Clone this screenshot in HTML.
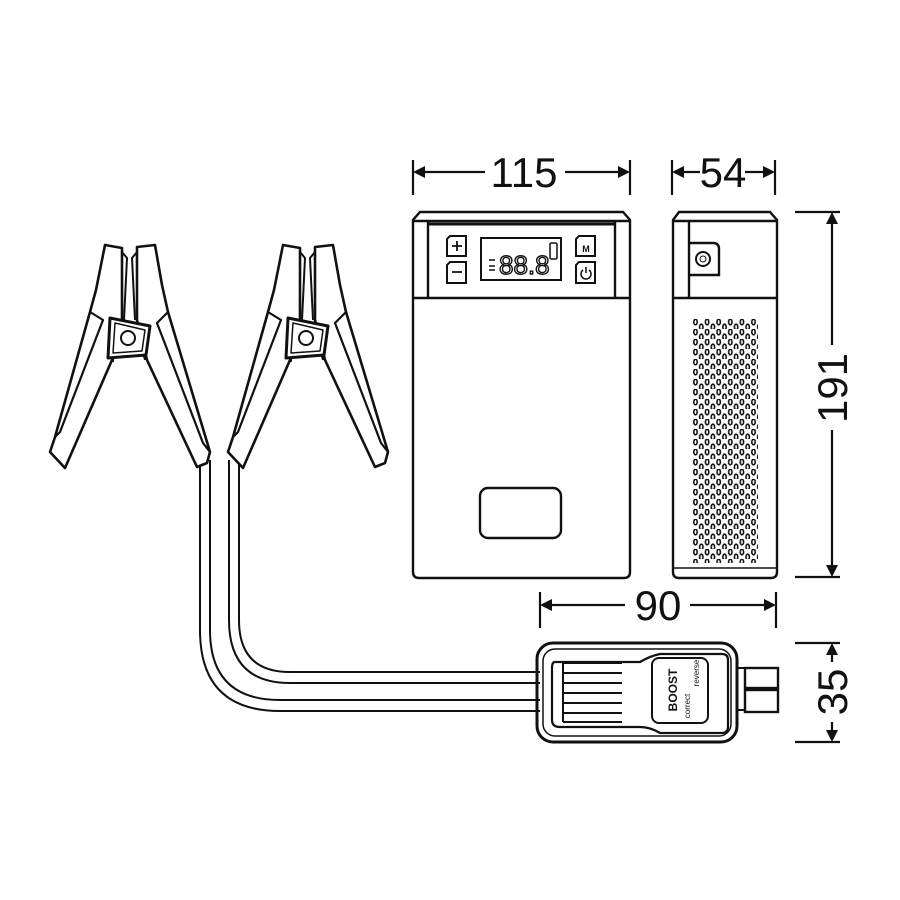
<!DOCTYPE html>
<html><head><meta charset="utf-8"><style>body{margin:0;background:#fff}svg{display:block}</style></head><body>
<svg width="900" height="900" viewBox="0 0 900 900" xmlns="http://www.w3.org/2000/svg">
<defs>
<pattern id="gr" x="693" y="319" width="11.6" height="10" patternUnits="userSpaceOnUse">
<ellipse cx="2.5" cy="3" rx="1.7" ry="2.8" fill="none" stroke="#111" stroke-width="1.6"/>
<ellipse cx="8.3" cy="8" rx="1.7" ry="2.8" fill="none" stroke="#111" stroke-width="1.6"/>
</pattern>
<g id="clamp" fill="#fff" stroke="#111" stroke-width="2.6" stroke-linejoin="round">
<path d="M105,245 L122,248 L122,320 L112,360 L65,468 L50,452 L55,437 L90,312 L96,290 Z"/>
<path d="M90,312 L103,320 L60,432 L55,437" fill="none" stroke-width="2.2"/>
<path d="M137,247 L155,245 L162,285 L168,312 L210,452 L207,463 L197,467 L147,360 L137,320 Z"/>
<path d="M168,312 L157,323 L203,443 L210,452" fill="none" stroke-width="2.2"/>
<path d="M122,252 L127,258 L124,320 M137,252 L132,258 L135,320" fill="none" stroke-width="2"/>
<path d="M113,362 A16,12 0 0 1 145,360" fill="none" stroke-width="2"/>
<path d="M110,318 L150,326 L146,355 L108,358 Z" stroke-width="3"/>
<path d="M115,323 L145,330 L142,351 L113,353 Z" stroke-width="1.5"/>
<circle cx="128" cy="338" r="7" stroke-width="2"/>
</g>
</defs>
<rect width="900" height="900" fill="#fff"/>
<g fill="none" stroke="#111" stroke-width="2">
<path d="M200,460 L200,630 Q200,711 280,711 L540,711"/>
<path d="M210,460 L210,630 Q210,700 280,700 L540,700"/>
<path d="M229,460 L229,620 Q229,683 290,683 L540,683"/>
<path d="M239,460 L239,620 Q239,672 290,672 L540,672"/>
</g>
<use href="#clamp"/>
<use href="#clamp" x="178"/>
<g fill="none" stroke="#111" stroke-width="2.2">
<path d="M413,160V195M630,160V195M420,172H485M565,172H623"/>
<path d="M672,160V195M775,160V195M679,172H700M745,172H768"/>
<path d="M795,212H840M795,577H840M832,219V345M832,430V570"/>
<path d="M540,592V628M776,592V628M547,605H625M690,605H769"/>
<path d="M795,643H840M795,742H840M832,650V662M832,722V735"/>
</g>
<g fill="#111">
<path d="M413,172l12,-6v12z M630,172l-12,-6v12z M672,172l12,-6v12z M775,172l-12,-6v12z"/>
<path d="M832,212l-6,12h12z M832,577l-6,-12h12z M540,605l12,-6v12z M776,605l-12,-6v12z"/>
<path d="M832,643l-6,12h12z M832,742l-6,-12h12z"/>
</g>
<g font-family="Liberation Sans, sans-serif" font-size="42" fill="#111" text-anchor="middle">
<text x="524" y="187">115</text>
<text x="723" y="187">54</text>
<text x="658" y="620">90</text>
<text transform="translate(847,388) rotate(-90)">191</text>
<text transform="translate(847,692) rotate(-90)">35</text>
</g>
<g fill="none" stroke="#111" stroke-width="2.4">
<path d="M420,212H623L630,220V572Q630,578 624,578H419Q413,578 413,572V220Z"/>
<path d="M413,221H630M413,298H630M428,221V298M615,221V298"/>
<path d="M428,224H615" stroke-width="3"/>
<rect x="481" y="238" width="80" height="42" stroke-width="2"/>
<rect x="480" y="488" width="81" height="50" rx="8"/>
<path d="M450,236H466V256H447V239Z M450,262H466V283H447V265Z M579,236H595V256H576V239Z M579,262H595V283H576V265Z" stroke-width="2"/>
<path d="M452,246h10M457,241v10M452,272h10" stroke-width="1.8"/>
<rect x="550" y="243" width="7" height="16" rx="1.5" stroke-width="1.5"/>
<path d="M583,270a5,5 0 1 0 6,0M586,267v6" stroke-width="1.5"/>
<path d="M489,260h6M489,266h6M489,270h6" stroke-width="1.5"/>
<path d="M679,212H770L777,220V572Q777,578 771,578H679Q673,578 673,572V220Z"/>
<path d="M673,221H777M673,298H777M689,221V298"/>
<path d="M689,243H713Q719,243 719,249V275H689" stroke-width="2.4"/>
<circle cx="703" cy="259" r="7" stroke-width="2"/>
<circle cx="703" cy="259" r="3" stroke-width="1"/>
<path d="M673,568H777" stroke-width="1.5"/>
</g>
<text x="499" y="274" font-family="Liberation Sans, sans-serif" font-size="26" fill="none" stroke="#111" stroke-width="1.4">88.8</text>
<text x="586" y="252" font-family="Liberation Sans, sans-serif" font-size="9" font-weight="bold" fill="#111" text-anchor="middle">M</text>
<rect x="693" y="319" width="65" height="244" fill="url(#gr)"/>
<g fill="none" stroke="#111">
<path d="M520,672H540M520,683H540M520,700H540M520,711H540" stroke-width="2"/>
<rect x="537" y="643" width="200" height="99" rx="16" stroke-width="3"/>
<rect x="543" y="649" width="188" height="87" rx="12" stroke-width="1.5"/>
<path d="M555,662Q552,662 552,668V720Q552,727 560,727H640Q650,727 660,733H722Q728,733 728,727V660Q728,654 722,654H660Q650,656 640,662Z" stroke-width="2.2"/>
<rect x="652" y="658" width="56" height="65" rx="7" stroke-width="2"/>
<path d="M563,663H622M563,673H622M563,683H622M563,693H622M563,703H622M563,713H622M563,722H622M563,663V722" stroke-width="2"/>
<path d="M737,668H745M737,710H745" stroke-width="2"/>
<rect x="745" y="668" width="33" height="20" stroke-width="2.4"/>
<rect x="745" y="690" width="33" height="22" stroke-width="2.4"/>
</g>
<g font-family="Liberation Sans, sans-serif" fill="#111" text-anchor="middle">
<text transform="translate(677,690) rotate(-90)" font-size="12" font-weight="bold">BOOST</text>
<text transform="translate(690,706) rotate(-90)" font-size="8">correct</text>
<text transform="translate(699,673) rotate(-90)" font-size="8">reverse</text>
</g>
</svg>
</body></html>
